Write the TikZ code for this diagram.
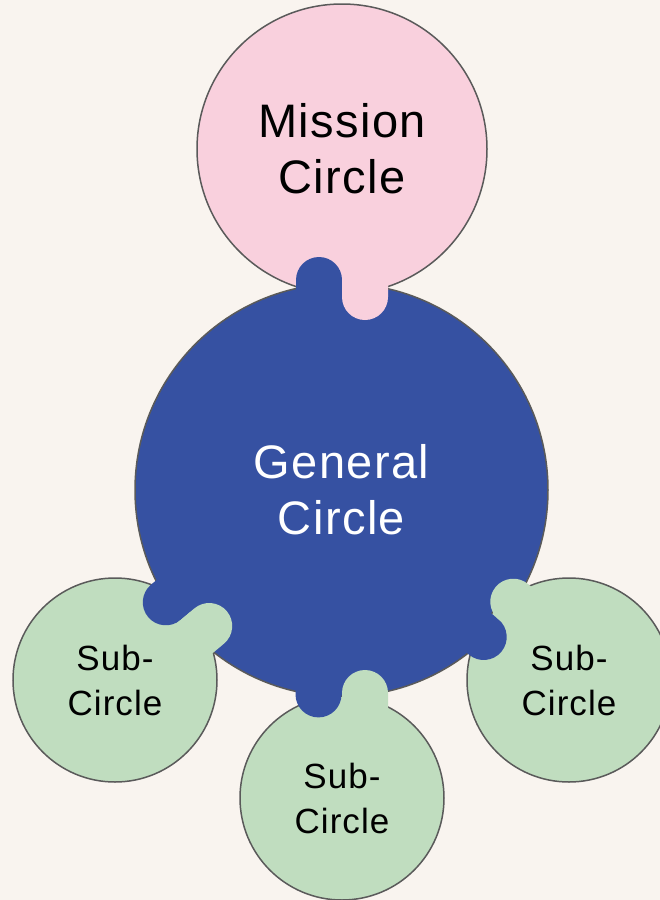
\documentclass[tikz,border=0pt]{standalone}
\usepackage{fontspec}
\setmainfont{Liberation Sans}[LetterSpace=3]
\definecolor{bgcol}{HTML}{F9F4EF}
\definecolor{pinkcol}{HTML}{F9D0DD}
\definecolor{bluecol}{HTML}{3651A2}
\definecolor{greencol}{HTML}{C0DDBF}
\definecolor{linecol}{HTML}{5A5A5A}
\newcommand\jointlobe[4]{\fill[#4, shift={(#1,#2)}, rotate=#3] (-30pt,-23pt) -- (0pt,-23pt) arc[start angle=-90,end angle=90,radius=23pt] -- (-30pt,23pt) -- cycle;}
\tikzset{
  ring/.style={circle, draw=linecol, line width=1.5pt, inner sep=0pt, align=center},
  bigtext/.style={font=\fontsize{47}{56}\selectfont},
  subtext/.style={font=\fontsize{35}{45}\selectfont, text=black},
}
\begin{document}
\begin{tikzpicture}[x=1pt,y=-1pt]
\useasboundingbox (0,0) rectangle (660,900);
\fill[bgcol] (0,0) rectangle (660,900);
\clip (0,0) rectangle (660,900);
\node[ring, fill=bluecol, minimum size=413pt, bigtext, text=white] (gen) at (341.5,490) {General\\Circle};
\node[ring, fill=pinkcol, minimum size=290pt, bigtext, text=black] (mis) at (342,149) {Mission\\Circle};
\node[ring, fill=greencol, minimum size=204pt, subtext] (subl) at (115,680) {Sub-\\Circle};
\node[ring, fill=greencol, minimum size=204pt, subtext] (subb) at (342,798) {Sub-\\Circle};
\node[ring, fill=greencol, minimum size=204pt, subtext] (subr) at (569,680) {Sub-\\Circle};
% joint general - mission
\jointlobe{319}{280}{90}{bluecol}
\jointlobe{365}{297}{-90}{pinkcol}
% joint general - bottom sub
\jointlobe{318.5}{694.4}{-90}{bluecol}
\jointlobe{365}{693}{90}{greencol}
% joint general - left sub
\jointlobe{165.8}{602.3}{-140}{bluecol}
\jointlobe{209.2}{626}{40}{greencol}
% joint general - right sub
\jointlobe{483.7}{637}{-39.9}{bluecol}
\jointlobe{513.3}{601.7}{140.1}{greencol}
\end{tikzpicture}
\end{document}
